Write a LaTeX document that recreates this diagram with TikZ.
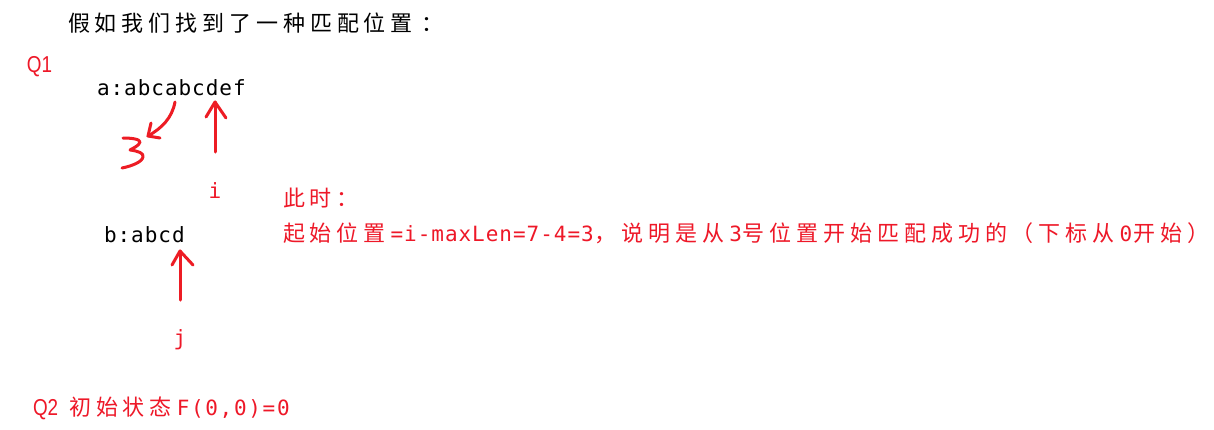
\documentclass[tikz,border=0pt]{standalone}
\usepackage{graphicx}
\usepackage{fontspec}
\newfontfamily\cjk[LetterSpace=22.3]{Noto Sans CJK SC}
\newfontfamily\mono[LetterSpace=4.6]{DejaVu Sans Mono}
\newfontfamily\monow[LetterSpace=8]{DejaVu Sans Mono}
\newfontfamily\qfont{Liberation Sans}
\newcommand\segC[1]{{\fontsize{22}{26}\selectfont\cjk #1}\hspace{4.9pt}}
\newcommand\segM[1]{{\fontsize{21}{26}\selectfont\mono #1}\hspace{0.97pt}}
\newcommand\segQ[1]{\scalebox{0.82}[1]{\fontsize{23}{26}\selectfont\qfont #1}}
\definecolor{txtred}{RGB}{238,24,40}
\definecolor{penred}{RGB}{237,28,36}
\tikzset{
  lbl/.style={anchor=base west,inner sep=0pt,outer sep=0pt},
  blk/.style={lbl,text=black},
  rd/.style={lbl,text=txtred},
  pen/.style={draw=penred,line width=3pt,line cap=round,line join=round}
}
\begin{document}
\begin{tikzpicture}[x=1pt,y=-1pt]
\useasboundingbox[fill=white] (0,0) rectangle (1214,429);
\node[blk] (title) at (68,31) {\segC{假如我们找到了一种匹配位置}\hspace{4pt}\segC{：}};
\node[rd] (q1) at (27,72) {\segQ{Q1}};
\node[blk] (a) at (97,95) {\segM{a:abcabcdef}};
\node[blk] (b) at (104,242) {\segM{b:abcd}};
\node[rd] (i) at (208.7,198) {\segM{i}};
\node[rd] (j) at (173.7,345) {\segM{j}};
\node[rd] (now) at (283,206) {\segC{此时：}};
\node[rd] (expl) at (283,241) {\segC{起始位置}\segM{=i-maxLen=7-4=3}\segC{，说明是从}\segM{3}\segC{号位置开始匹配成功的（下标从}\segM{0}\segC{开始）}};
\node[rd] (q2) at (33,415) {\segQ{Q2}\hspace{11pt}\segC{初始状态}{\fontsize{21}{26}\selectfont\monow F(0,0)=0}};
% hand-drawn curved arrow to the "3"
\coordinate (c1) at (175,102);
\coordinate (c2) at (148,136);
\draw[pen] (c1) .. controls (172,118) and (162,128) .. (c2);
\draw[pen] (151,123) -- (c2) -- (160,138);
% hand-drawn 3
\draw[pen] (123,138) .. controls (131,138) and (140,139) .. (140,142)
  .. controls (139,146) and (133,148) .. (130,150)
  .. controls (138,151) and (144,153) .. (143,157)
  .. controls (142,162) and (132,166) .. (122,168);
% arrow at i
\coordinate (itip) at (215,102);
\coordinate (ibot) at (215,152);
\draw[pen] (ibot) -- (itip);
\draw[pen] (206,117) -- (itip) -- (226,118);
% arrow at j
\coordinate (jtip) at (180,251);
\coordinate (jbot) at (180,300);
\draw[pen] (jbot) -- (jtip);
\draw[pen] (172,265) -- (jtip) -- (193,265);
\end{tikzpicture}
\end{document}
